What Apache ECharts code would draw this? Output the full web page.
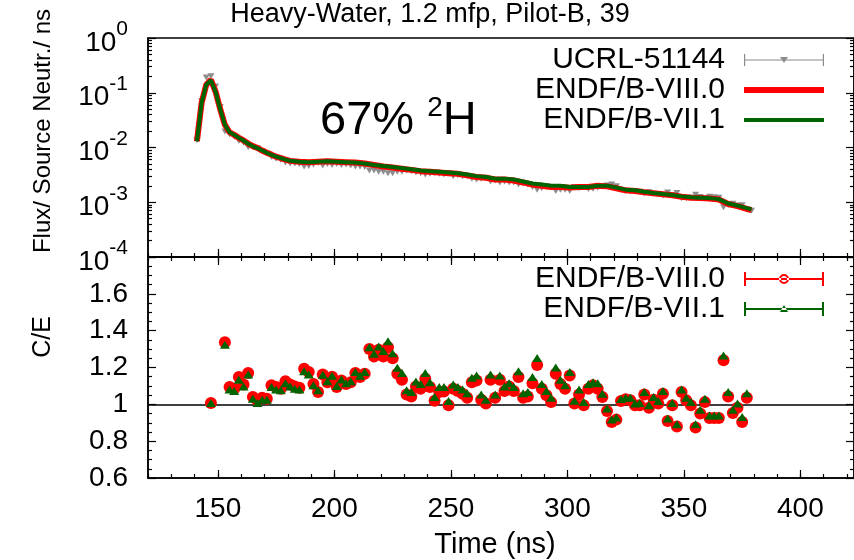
<!DOCTYPE html>
<html>
<head>
<meta charset="utf-8">
<script src="https://cdn.jsdelivr.net/npm/echarts@6/dist/echarts.min.js"></script>
<style>
  html, body { margin: 0; padding: 0; background: #fff; }
  #chart { width: 854px; height: 560px; }
</style>
</head>
<body>
<div id="chart"></div>
<script>
// Heavy-Water, 1.2 mfp, Pilot-B, 39 -- flux + C/E
var FONT = 'Liberation Sans, Arial, sans-serif';

// x ticks
var xMajor = [150, 200, 250, 300, 350, 400];

// UCRL-51144 measured flux (per source neutron / ns)
var expTime = [141, 143, 145, 147, 149, 151, 153, 155, 157, 159, 161, 163, 165, 167, 169, 171, 173, 175, 177, 179,
  181, 183, 185, 187, 189, 191, 193, 195, 197, 199, 201, 203, 205, 207, 209, 211, 213, 215, 217, 219,
  221, 223, 225, 227, 229, 231, 233, 235, 237, 239, 241, 243, 245, 247, 249, 251, 253, 255, 257, 259,
  261, 263, 265, 267, 269, 271, 273, 275, 277, 279, 281, 283, 285, 287, 289, 291, 293, 295, 297, 299,
  301, 303, 305, 307, 309, 311, 313, 315, 317, 319, 321, 323, 325, 327, 329, 331, 333, 335, 337, 339,
  341, 343, 345, 347, 349, 351, 353, 355, 357, 359, 361, 363, 365, 367, 369, 371, 373, 375, 377, 379];
var expFlux = [0.0135, 0.07, 0.19, 0.2, 0.13, 0.055, 0.0195, 0.0174, 0.0157, 0.0131, 0.0122, 0.0101, 0.0102, 0.0096, 0.0085, 0.0078, 0.0067, 0.0062, 0.0059, 0.0053,
  0.0051, 0.0051, 0.0050, 0.0045, 0.0046, 0.0049, 0.0052, 0.0047, 0.0050, 0.0048, 0.0050, 0.0048, 0.0049, 0.0047, 0.0045, 0.0045, 0.0044, 0.0038, 0.0038, 0.0036,
  0.0036, 0.0034, 0.0034, 0.0036, 0.0036, 0.0038, 0.0037, 0.0035, 0.0034, 0.0032, 0.0033, 0.0034, 0.0033, 0.0032, 0.0034, 0.0030, 0.0031, 0.0030, 0.0030, 0.0027,
  0.0026, 0.0027, 0.0028, 0.0024, 0.0025, 0.0023, 0.0024, 0.0023, 0.0023, 0.0021, 0.0022, 0.0021, 0.0019, 0.0017, 0.0018, 0.0019, 0.0019, 0.0016, 0.0017, 0.0017,
  0.0016, 0.0019, 0.0018, 0.0019, 0.00175, 0.00177, 0.00184, 0.00192, 0.00202, 0.0021, 0.00196, 0.00167, 0.00161, 0.00157, 0.00161, 0.00156, 0.00144, 0.00153, 0.00142, 0.00142,
  0.00132, 0.00151, 0.00135, 0.00148, 0.00118, 0.0012, 0.00122, 0.00137, 0.00125, 0.00117, 0.00126, 0.00124, 0.00121, 0.00081, 0.00089, 0.00094, 0.00087, 0.00088, 0.00073, 0.0007];

// calculated flux
var calcTime = [141, 143, 145, 147, 149, 151, 153, 155, 157, 159, 161, 163, 165, 167, 169, 171, 173, 175, 177, 179, 181,
  185, 189, 193, 197, 201, 205, 209, 213, 217, 221, 225, 229, 233, 237, 241, 245, 249, 253, 257, 261,
  265, 269, 273, 277, 281, 285, 289, 293, 297, 301, 305, 309, 313, 317, 321, 325, 329, 333, 337, 341,
  345, 349, 353, 357, 361, 365, 369, 373, 377, 379];
var calcViii = [0.013, 0.065, 0.14, 0.172, 0.105, 0.05, 0.026, 0.019, 0.017, 0.015, 0.0135, 0.0118, 0.0106, 0.0098, 0.0088, 0.008, 0.0074, 0.0068, 0.0064, 0.006, 0.0057,
  0.0055, 0.0054, 0.0055, 0.0056, 0.0055, 0.0054, 0.0053, 0.0051, 0.0048, 0.0045, 0.0043, 0.0041, 0.0039, 0.0037, 0.0036, 0.0035, 0.0034, 0.0033, 0.0031, 0.0029,
  0.0028, 0.0026, 0.0026, 0.0025, 0.0023, 0.0021, 0.0020, 0.0019, 0.0019, 0.00185, 0.0019, 0.0019, 0.0020, 0.00195, 0.0018, 0.00165, 0.0016, 0.00152, 0.00146, 0.0014,
  0.00134, 0.00126, 0.00121, 0.00119, 0.00117, 0.00112, 0.00093, 0.00085, 0.00076, 0.00072];
var calcVii = [0.013, 0.065, 0.14, 0.17, 0.104, 0.05, 0.026, 0.019, 0.017, 0.015, 0.0134, 0.0117, 0.0105, 0.0097, 0.0088, 0.008, 0.0073, 0.0068, 0.0064, 0.006, 0.0057,
  0.0055, 0.0054, 0.0055, 0.0056, 0.0055, 0.0054, 0.0053, 0.0051, 0.0048, 0.0046, 0.0044, 0.0042, 0.0040, 0.0038, 0.0037, 0.0036, 0.0035, 0.0034, 0.0032, 0.0030,
  0.0029, 0.0027, 0.0027, 0.0026, 0.0024, 0.0022, 0.0021, 0.0020, 0.0020, 0.0019, 0.0019, 0.0019, 0.0020, 0.002, 0.00185, 0.0017, 0.00165, 0.00155, 0.00148, 0.00142,
  0.00136, 0.00128, 0.00123, 0.00121, 0.00119, 0.00114, 0.00095, 0.00087, 0.00078, 0.00074];

// C/E
var ceTime = [147, 153, 155, 157, 159, 161, 163, 165, 167, 169, 171, 173, 175, 177, 179, 181, 183, 185, 187, 189,
  191, 193, 195, 197, 199, 201, 203, 205, 207, 209, 211, 213, 215, 217, 219, 221, 223, 225, 227, 229,
  231, 233, 235, 237, 239, 241, 243, 245, 247, 249, 251, 253, 255, 257, 259, 261, 263, 265, 267, 269,
  271, 273, 275, 277, 279, 281, 283, 285, 287, 289, 291, 293, 295, 297, 299, 301, 303, 305, 307, 309,
  311, 313, 315, 317, 319, 321, 323, 325, 327, 329, 331, 333, 335, 337, 339, 341, 343, 345, 347, 349,
  351, 353, 355, 357, 359, 361, 363, 365, 367, 369, 371, 373, 375, 377];
var ceViii = [1.007, 1.337, 1.094, 1.085, 1.148, 1.108, 1.17, 1.04, 1.022, 1.036, 1.03, 1.103, 1.094, 1.085, 1.126, 1.108, 1.097, 1.09, 1.193, 1.175,
  1.11, 1.067, 1.162, 1.12, 1.15, 1.094, 1.13, 1.11, 1.12, 1.17, 1.148, 1.166, 1.30, 1.26, 1.296, 1.26, 1.31, 1.25, 1.166, 1.134,
  1.054, 1.043, 1.097, 1.085, 1.139, 1.094, 1.02, 1.067, 1.07, 0.995, 1.085, 1.072, 1.058, 1.036, 1.12, 1.13, 1.025, 1.004, 1.133, 1.036,
  1.133, 1.072, 1.097, 1.072, 1.148, 1.036, 1.043, 1.115, 1.214, 1.085, 1.049, 1.012, 1.166, 1.11, 1.085, 1.157, 1.004, 1.054, 0.995, 1.085,
  1.103, 1.085, 1.04, 0.964, 0.904, 0.917, 1.018, 1.027, 1.022, 0.995, 0.995, 1.054, 0.982, 1.025, 1.004, 1.058, 0.91, 0.995, 0.88, 1.067,
  1.022, 0.995, 0.874, 0.95, 1.012, 0.926, 0.926, 0.926, 1.24, 1.043, 0.953, 0.982, 0.904, 1.036];
var ceVii = [1.007, 1.324, 1.08, 1.072, 1.134, 1.097, 1.162, 1.03, 1.007, 1.025, 1.025, 1.094, 1.08, 1.076, 1.115, 1.097, 1.085, 1.08, 1.18, 1.162,
  1.103, 1.076, 1.16, 1.125, 1.155, 1.10, 1.135, 1.115, 1.125, 1.175, 1.155, 1.175, 1.31, 1.274, 1.314, 1.29, 1.342, 1.277, 1.198, 1.17,
  1.076, 1.067, 1.124, 1.11, 1.17, 1.12, 1.04, 1.094, 1.094, 1.018, 1.108, 1.094, 1.08, 1.06, 1.144, 1.157, 1.054, 1.025, 1.162, 1.054,
  1.157, 1.097, 1.115, 1.094, 1.18, 1.06, 1.067, 1.148, 1.252, 1.11, 1.072, 1.036, 1.20, 1.133, 1.103, 1.175, 1.02, 1.08, 1.012, 1.11,
  1.12, 1.115, 1.058, 0.977, 0.917, 0.928, 1.029, 1.036, 1.036, 1.004, 1.007, 1.067, 0.995, 1.04, 1.018, 1.072, 0.923, 1.007, 0.892, 1.08,
  1.036, 1.012, 0.892, 0.971, 1.03, 0.94, 0.94, 0.94, 1.265, 1.067, 0.971, 1.004, 0.931, 1.06];

// log minor tick positions 2..9 x 10^k
var logMinor = [];
for (var k = -4; k < 0; k++) {
  for (var m = 2; m <= 9; m++) logMinor.push(m * Math.pow(10, k));
}

function pairs(xs, ys) {
  return xs.map(function (x, i) { return [x, ys[i]]; });
}

var black = { color: '#000', width: 1.5 };
var tickLine = { color: '#000', width: 1.2 };
var TICK_FS = 28;

function xAx(grid, pos, major, labels) {
  var a = {
    type: 'value', gridIndex: grid, position: pos, min: 120, max: 423,
    axisLine: { show: major, onZero: false, lineStyle: black },
    axisTick: major ? { inside: true, length: 8, customValues: xMajor, lineStyle: tickLine }
                    : { inside: true, length: 4, lineStyle: tickLine },
    axisLabel: { show: false },
    splitLine: { show: false }
  };
  if (!major) a.interval = 10;
  if (labels) {
    a.axisLabel = { show: true, customValues: xMajor, fontSize: TICK_FS, fontFamily: FONT, color: '#000', margin: 17 };
  }
  return a;
}

function logAx(pos, major, labels) {
  var a = {
    type: 'log', logBase: 10, gridIndex: 0, position: pos, min: 1e-4, max: 1,
    axisLine: { show: major, onZero: false, lineStyle: black },
    axisTick: major ? { inside: true, length: 8, lineStyle: tickLine }
                    : { inside: true, length: 4, customValues: logMinor, lineStyle: tickLine },
    axisLabel: { show: false },
    splitLine: { show: false }
  };
  if (labels) {
    a.axisLabel = {
      show: true, margin: 20,
      formatter: function (v) {
        var e = Math.round(Math.log(v) / Math.LN10);
        return '{b|10}{e|' + e + '}';
      },
      rich: {
        b: { fontSize: TICK_FS, fontFamily: FONT, color: '#000', padding: [10, 0, 0, 0], verticalAlign: 'bottom' },
        e: { fontSize: 21, fontFamily: FONT, color: '#000', verticalAlign: 'top' }
      }
    };
  }
  return a;
}

function ceAx(pos, labels) {
  return {
    type: 'value', gridIndex: 1, position: pos, min: 0.6, max: 1.8, interval: 0.2,
    axisLine: { show: true, onZero: false, lineStyle: black },
    axisTick: { inside: true, length: 8, lineStyle: tickLine },
    minorTick: { show: true, splitNumber: 4, length: 4, lineStyle: tickLine },
    axisLabel: labels ? { show: true, showMaxLabel: false, fontSize: TICK_FS, fontFamily: FONT, color: '#000', margin: 20 } : { show: false },
    splitLine: { show: false }
  };
}

// legend samples (80 x 14 boxes; corner specks keep the box size)
var corners = 'M0,0h0.01v0.01h-0.01Z M79.99,13.99h0.01v0.01h-0.01Z ';
var grayIcon = 'path://M0,6.5h80v1h-80Z M0,1h1.2v12h-1.2Z M78.8,1h1.2v12h-1.2Z M36,4L44,4L40,10Z';
var redLineIcon = 'path://' + corners + 'M0,4h80v6h-80Z';
var greenLineIcon = 'path://' + corners + 'M0,5h80v4h-80Z';
var redIcon = 'path://M0,6h80v2h-80Z M0,0h2v14h-2Z M78,0h2v14h-2Z M45,7A5,5 0 1,0 35,7A5,5 0 1,0 45,7Z M43,7A3,3 0 1,1 37,7A3,3 0 1,1 43,7Z';
var greenIcon = 'path://M0,6h80v2h-80Z M0,0h2v14h-2Z M78,0h2v14h-2Z M36,10L44,10L40,3Z';

var legendText = { fontSize: 30, fontFamily: FONT, color: '#000', width: 215, align: 'right', padding: [0, 14, 0, 0], lineHeight: 28 };

var chart = echarts.init(document.getElementById('chart'), null, { renderer: 'canvas' });
chart.setOption({
  animation: false,
  backgroundColor: '#fff',
  grid: [
    { left: 148, top: 38, width: 707, height: 219, show: true, borderColor: '#000', borderWidth: 1.5 },
    { left: 148, top: 257, width: 707, height: 221, show: true, borderColor: '#000', borderWidth: 1.5 }
  ],
  xAxis: [
    xAx(0, 'bottom', true, false),
    xAx(0, 'bottom', false, false),
    xAx(1, 'bottom', true, true),
    xAx(1, 'bottom', false, false),
    xAx(1, 'top', true, false),
    xAx(1, 'top', false, false)
  ],
  yAxis: [
    logAx('left', true, true),
    logAx('left', false, false),
    logAx('right', true, false),
    logAx('right', false, false),
    ceAx('left', true),
    ceAx('right', false)
  ],
  legend: [
    {
      orient: 'vertical', left: 510, top: 45, padding: 0, itemGap: 0, itemWidth: 80, itemHeight: 14,
      align: 'right', selectedMode: false, textStyle: legendText,
      data: [
        { name: 'UCRL-51144', icon: grayIcon },
        { name: 'ENDF/B-VIII.0', icon: redLineIcon },
        { name: 'ENDF/B-VII.1', icon: greenLineIcon }
      ]
    },
    {
      orient: 'vertical', left: 510, top: 264, padding: 0, itemGap: 0, itemWidth: 80, itemHeight: 14,
      align: 'right', selectedMode: false, textStyle: legendText,
      formatter: function (n) { return n.trim(); },
      data: [{ name: 'ENDF/B-VIII.0 ', icon: redIcon }, { name: 'ENDF/B-VII.1 ', icon: greenIcon }]
    }
  ],
  graphic: [
    { type: 'text', x: 430, y: 15, style: { text: 'Heavy-Water, 1.2 mfp, Pilot-B, 39', fontSize: 27, fontFamily: FONT, fill: '#000', align: 'center', verticalAlign: 'middle' } },
    { type: 'text', x: 43, y: 131, rotation: Math.PI / 2, style: { text: 'Flux/ Source Neutr./ ns', fontSize: 24, fontFamily: FONT, fill: '#000', align: 'center', verticalAlign: 'middle' } },
    { type: 'text', x: 43, y: 337, rotation: Math.PI / 2, style: { text: 'C/E', fontSize: 25, fontFamily: FONT, fill: '#000', align: 'center', verticalAlign: 'middle' } },
    { type: 'text', x: 495, y: 545, style: { text: 'Time (ns)', fontSize: 29, fontFamily: FONT, fill: '#000', align: 'center', verticalAlign: 'middle' } },
    {
      type: 'text', x: 320, y: 94, z: 10,
      style: {
        text: '{a|67% }{s|2}{a|H}', fill: '#000', verticalAlign: 'top',
        rich: {
          a: { fontSize: 47, fontFamily: FONT, fill: '#000', verticalAlign: 'bottom', padding: [4, 0, 0, 0] },
          s: { fontSize: 28, fontFamily: FONT, fill: '#000', verticalAlign: 'top' }
        }
      }
    }
  ],
  series: [
    {
      name: 'UCRL-51144', type: 'scatter', xAxisIndex: 0, yAxisIndex: 0,
      data: pairs(expTime, expFlux),
      symbol: 'triangle', symbolRotate: 180, symbolSize: [7, 6],
      itemStyle: { color: '#8c8c8c', opacity: 1 }, z: 2
    },
    {
      name: 'ENDF/B-VIII.0', type: 'line', xAxisIndex: 0, yAxisIndex: 0,
      data: pairs(calcTime, calcViii), symbol: 'none',
      lineStyle: { color: '#ff0000', width: 6 }, itemStyle: { color: '#ff0000' }, z: 3
    },
    {
      name: 'ENDF/B-VII.1', type: 'line', xAxisIndex: 0, yAxisIndex: 0,
      data: pairs(calcTime, calcVii), symbol: 'none',
      lineStyle: { color: '#006400', width: 4 }, itemStyle: { color: '#006400' }, z: 4
    },
    {
      name: 'ENDF/B-VIII.0 ', type: 'scatter', xAxisIndex: 2, yAxisIndex: 4,
      data: pairs(ceTime, ceViii), symbol: 'circle', symbolSize: 12,
      itemStyle: { color: '#ff0000', opacity: 1 }, z: 3,
      markLine: {
        silent: true, symbol: 'none', z: 1, label: { show: false },
        lineStyle: { color: '#000', width: 1.5, type: 'solid' },
        data: [{ yAxis: 1 }]
      }
    },
    {
      name: 'ENDF/B-VII.1 ', type: 'scatter', xAxisIndex: 2, yAxisIndex: 4,
      data: pairs(ceTime, ceVii), symbol: 'triangle', symbolSize: [10, 8],
      itemStyle: { color: '#006400', opacity: 1 }, z: 4
    }
  ]
});
</script>
</body>
</html>
